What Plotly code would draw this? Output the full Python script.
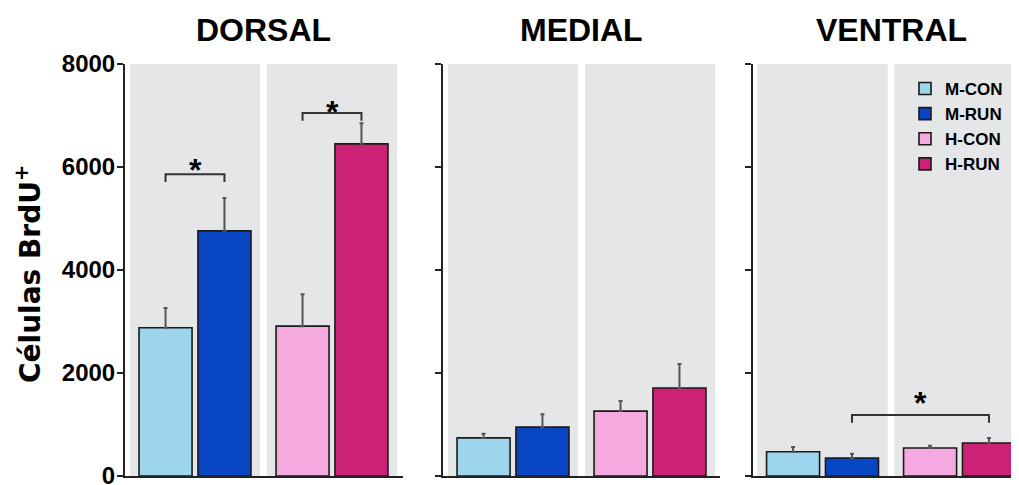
import plotly.graph_objects as go

# ---- data ----
regions = ["DORSAL", "MEDIAL", "VENTRAL"]
groups = ["M-CON", "M-RUN", "H-CON", "H-RUN"]
colors = ["#9dd6ec", "#0846c4", "#f4aade", "#cb2275"]

m_con_mean = [2880, 740, 470]
m_con_err = [380, 80, 95]
m_run_mean = [4760, 950, 350]
m_run_err = [640, 250, 80]
h_con_mean = [2910, 1260, 545]
h_con_err = [620, 195, 40]
h_run_mean = [6450, 1710, 640]
h_run_err = [400, 465, 100]

y_ticks = [0, 2000, 4000, 6000, 8000]

sig_region = [0, 0, 2]
sig_left = ["M-CON", "H-CON", "M-RUN"]
sig_right = ["M-RUN", "H-RUN", "H-RUN"]
sig_y = [5860, 7050, 1185]

means = [m_con_mean, m_run_mean, h_con_mean, h_run_mean]
errs = [m_con_err, m_run_err, h_con_err, h_run_err]

# ---- layout geometry ----
# the page body has an 8px margin, so the figure is drawn 8px smaller and
# all screen positions are shifted by that offset
OFF = 8
W, H = 1019 - OFF, 485 - OFF
PX = 68.5  # pixels per x unit
pair_centers = [0.0, 2.0]
half_gap = 0.43
bar_w = 0.774
panel_left_px = [125 - OFF, 443 - OFF, 753 - OFF]
panel_right_px = [403 - OFF, 720 - OFF, 1019 - OFF]
panel_x0 = [-1.022, -1.022, -1.015]
y_bot = (H - (476 - OFF)) / H
y_top = (H - (64 - OFF)) / H
star_shift = [-16, -19, -8]   # px offset of each star from its bracket

def bar_x(g):
    return pair_centers[g // 2] + (half_gap if g % 2 else -half_gap)

def py(screen_y):
    return (H - (screen_y - OFF)) / H

def px(screen_x):
    return (screen_x - OFF) / W

FONT = "Liberation Sans, Arial, Helvetica, sans-serif"
FONT_WIDE = "DejaVu Sans, Liberation Sans, Arial, sans-serif"
fig = go.Figure()

for r in range(3):
    xa = "x" if r == 0 else f"x{r+1}"
    ya = "y" if r == 0 else f"y{r+1}"
    for g in range(4):
        fig.add_trace(go.Bar(
            x=[bar_x(g)], y=[means[g][r]], width=[bar_w],
            name=groups[g], legendgroup=groups[g], showlegend=(r == 0),
            marker=dict(color=colors[g], line=dict(color="#1a1a1a", width=1.6)),
            error_y=dict(type="data", array=[errs[g][r]], arrayminus=[0],
                         symmetric=False, color="#555555", thickness=2, width=2),
            xaxis=xa, yaxis=ya,
        ))

shapes = []
annotations = []
for r in range(3):
    sfx = "" if r == 0 else str(r + 1)
    dom = [panel_left_px[r] / W, min(1.0, panel_right_px[r] / W)]
    width_px = panel_right_px[r] - panel_left_px[r]
    rng = [panel_x0[r], panel_x0[r] + width_px / PX]
    fig.layout["xaxis" + sfx] = dict(
        domain=dom, range=rng, showticklabels=False, ticks="",
        showgrid=False, zeroline=False, showline=True, linecolor="#222222",
        linewidth=2, anchor="y" + sfx, fixedrange=True, automargin=False,
    )
    fig.layout["yaxis" + sfx] = dict(
        domain=[y_bot, y_top], range=[0, 8000], tickvals=y_ticks,
        showticklabels=(r == 0), ticks="outside", ticklen=6, tickwidth=2,
        tickcolor="#222222", showgrid=False, zeroline=False, showline=True,
        linecolor="#222222", linewidth=2, anchor="x" + sfx,
        tickfont=dict(family=FONT, size=24, color="black", weight="bold"),
        ticklabelstandoff=-3, ticklabeloverflow="allow",
        fixedrange=True, automargin=False,
    )
    for c in pair_centers:
        shapes.append(dict(type="rect", xref="x" + sfx, yref="y" + sfx,
                           x0=c - 0.95, x1=c + 0.95, y0=0, y1=8000,
                           fillcolor="#e5e6e8", line=dict(width=0), layer="below"))
    annotations.append(dict(
        text=regions[r], xref="x" + sfx, yref="paper", x=1.0, y=py(30),
        xanchor="center", yanchor="middle", showarrow=False,
        font=dict(family=FONT, size=32, color="black", weight="bold"),
    ))

for i in range(len(sig_region)):
    r = sig_region[i]
    sfx = "" if r == 0 else str(r + 1)
    xl = bar_x(groups.index(sig_left[i]))
    xr = bar_x(groups.index(sig_right[i]))
    yt = sig_y[i]
    yb = yt - 150
    shapes.append(dict(type="path", xref="x" + sfx, yref="y" + sfx,
                       path=f"M {xl},{yb} L {xl},{yt} L {xr},{yt} L {xr},{yb}",
                       line=dict(color="#333333", width=2)))
    annotations.append(dict(
        text="*", xref="x" + sfx, yref="y" + sfx, x=(xl + xr) / 2, y=yt,
        xanchor="center", yanchor="bottom", yshift=star_shift[i], showarrow=False,
        font=dict(family=FONT, size=32, color="black", weight="bold"),
    ))

annotations.append(dict(
    text="Células BrdU<sup>+</sup>", xref="paper", yref="paper",
    x=px(28), y=py(274), xanchor="center", yanchor="middle",
    textangle=-90, showarrow=False,
    font=dict(family=FONT_WIDE, size=28, color="black", weight="bold"),
))

fig.update_layout(
    width=W, height=H, autosize=False,
    margin=dict(l=0, r=0, t=0, b=0),
    paper_bgcolor="white", plot_bgcolor="white",
    barmode="overlay",
    shapes=shapes, annotations=annotations,
    showlegend=True,
    legend=dict(x=px(1008), y=py(71), xanchor="right", yanchor="top",
                bgcolor="rgba(0,0,0,0)", traceorder="normal",
                font=dict(family=FONT, size=17, color="black", weight="bold"),
                itemclick=False, itemdoubleclick=False),
)

fig.write_html("out.html")
